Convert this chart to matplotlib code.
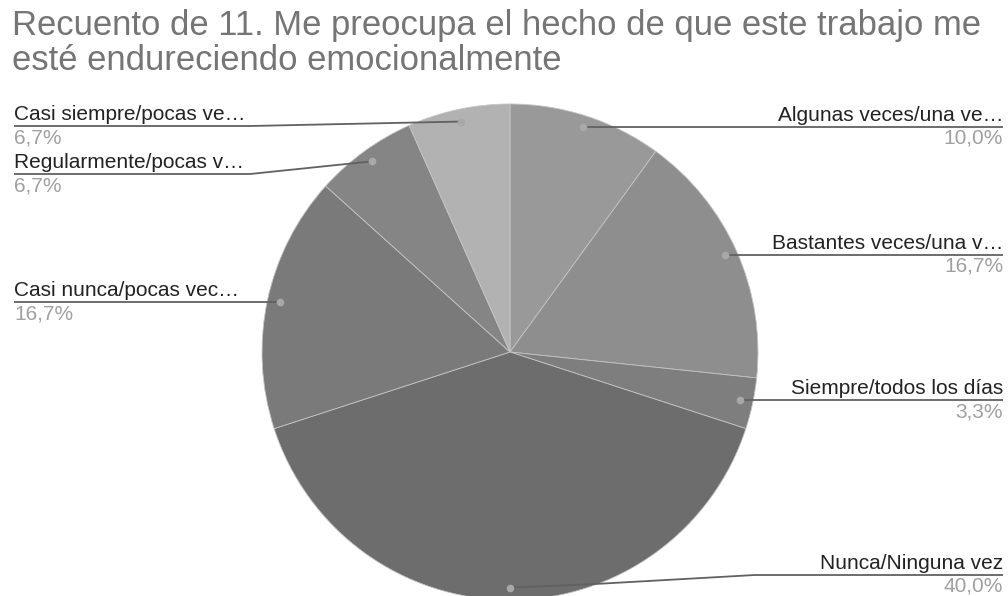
import numpy as np
import matplotlib
matplotlib.use("Agg")
import matplotlib.pyplot as plt

plt.rcParams["font.family"] = ["Liberation Sans", "DejaVu Sans"]

# datos de la pregunta 11 (30 respuestas)
titulo = ["Recuento de 11. Me preocupa el hecho de que este trabajo me",
          "esté endureciendo emocionalmente"]
categorias = ["Algunas veces/una ve…", "Bastantes veces/una v…", "Siempre/todos los días",
              "Nunca/Ninguna vez", "Casi nunca/pocas vec…", "Regularmente/pocas v…",
              "Casi siempre/pocas ve…"]
respuestas = [3, 5, 1, 12, 5, 2, 2]
colores = ["#999999", "#8e8e8e", "#7e7e7e", "#6d6d6d", "#7a7a7a", "#858585", "#b2b2b2"]

# posicion de cada etiqueta: lado, altura de la linea y codos intermedios (px)
lado = ["der", "der", "der", "der", "izq", "izq", "izq"]
y_linea = [127, 255, 400, 575, 302, 174, 126]
codos = [[], [], [], [(595, 584), (755, 575)], [], [(250, 174)], [(250, 126)]]

W, H = 1008, 596
cx, cy, r = 510, 352, 248

fig = plt.figure(figsize=(W / 100, H / 100), dpi=100)
ax = fig.add_axes([0, 0, 1, 1])

# eje en pixeles con y hacia abajo: sentido horario visual = antihorario en datos
ax.pie(respuestas, colors=colores, startangle=-90, counterclock=True,
       center=(cx, cy), radius=r,
       wedgeprops=dict(edgecolor="#c4c4c4", linewidth=0.6))
ax.set_xlim(0, W)
ax.set_ylim(H, 0)
ax.set_aspect("auto")
ax.axis("off")

total = sum(respuestas)
ang_ini = -90.0
for i, v in enumerate(respuestas):
    ang = 360.0 * v / total
    mid = np.deg2rad(ang_ini + ang / 2)
    ang_ini += ang
    px = cx + 0.95 * r * np.cos(mid)
    py = cy + 0.95 * r * np.sin(mid)

    x_fin = 1003 if lado[i] == "der" else 14
    xs = [px] + [c[0] for c in codos[i]] + [x_fin]
    ys = [py] + [c[1] for c in codos[i]] + [y_linea[i]]
    if not codos[i]:
        ys[0] = y_linea[i]
    ax.plot(xs, ys, color="#616161", lw=1.3, solid_capstyle="butt", zorder=3)
    ax.plot(xs[0], ys[0], "o", ms=5.5, color="#a8a8a8", mec="none", zorder=4)

    ha = "right" if lado[i] == "der" else "left"
    pct = f"{100 * v / total:.1f}%".replace(".", ",")
    ax.text(x_fin, y_linea[i] - 6, categorias[i], ha=ha, va="baseline",
            fontsize=15, color="#222222")
    ax.text(x_fin, y_linea[i] + 2, pct, ha=ha, va="top",
            fontsize=15, color="#a0a0a0")

for k, linea in enumerate(titulo):
    ax.text(12, 35 + 35 * k, linea, ha="left", va="baseline", fontsize=24.9,
            color="#757575")

fig.savefig("out.png", dpi=100)
